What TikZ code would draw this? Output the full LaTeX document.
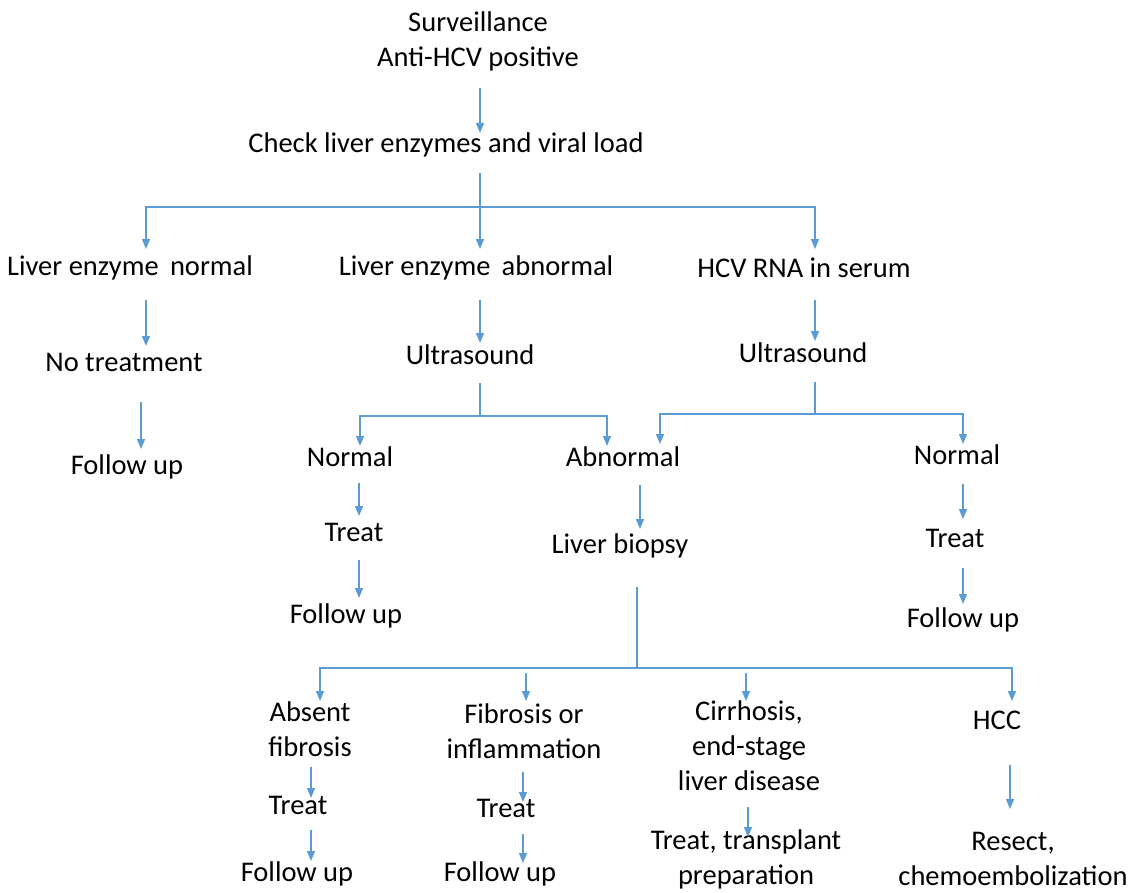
\documentclass[tikz,border=0pt]{standalone}
\usepackage{fontspec}
\setmainfont{Carlito}
\usetikzlibrary{arrows.meta}
\definecolor{ln}{HTML}{5B9BD5}
\tikzset{
  txt/.style={align=center,inner sep=0pt,font=\fontsize{28.5}{35}\selectfont},
  arr/.style={draw=ln,line width=1.3pt,-{Triangle[width=8pt,length=10pt]}},
  ln/.style={draw=ln,line width=1.3pt}
}
\begin{document}
\begin{tikzpicture}[x=1pt,y=-1pt]
\useasboundingbox (0,0) rectangle (1131,893);
% nodes
\node[txt] (surv) at (478,41) {Surveillance\\Anti-HCV positive};
\node[txt] (check) at (446,145) {Check liver enzymes and viral load};
\node[txt] (len) at (130,268) {Liver enzyme\, normal};
\node[txt] (lea) at (476,268) {Liver enzyme\, abnormal};
\node[txt] (rna) at (804,268) {HCV RNA in serum};
\node[txt] (notr) at (124,362) {No treatment};
\node[txt] (fu1) at (127,467) {Follow up};
\node[txt] (us1) at (470,355) {Ultrasound};
\node[txt] (us2) at (803,353) {Ultrasound};
\node[txt] (nor1) at (350,457) {Normal};
\node[txt] (abn) at (623,457) {Abnormal};
\node[txt] (nor2) at (957,455) {Normal};
\node[txt] (tr1) at (354,532) {Treat};
\node[txt] (fu2) at (346,616) {Follow up};
\node[txt] (bio) at (620,546) {Liver biopsy};
\node[txt] (tr2) at (955,538) {Treat};
\node[txt] (fu3) at (963,620) {Follow up};
\node[txt] (absf) at (310,729) {Absent\\fibrosis};
\node[txt] (fibi) at (524,731) {Fibrosis or\\inflammation};
\node[txt] (cirr) at (749,746) {Cirrhosis,\\end-stage\\liver disease};
\node[txt] (hcc) at (997,720) {HCC};
\node[txt] (tr3) at (298,805) {Treat};
\node[txt] (fu4) at (297,874) {Follow up};
\node[txt] (tr4) at (506,808) {Treat};
\node[txt] (fu5) at (500,874) {Follow up};
\node[txt] (ttp) at (746,859) {Treat, transplant\\preparation};
\node[txt] (res) at (1013,859) {Resect,\\chemoembolization};
% coordinates
\coordinate (c0a) at (480,88);  \coordinate (c0b) at (480,133);
\coordinate (c1a) at (480,173); \coordinate (c1b) at (480,207);
\coordinate (c1l) at (146,207); \coordinate (c1r) at (815,207);
\coordinate (c1l2) at (146,249); \coordinate (c1m2) at (480,249); \coordinate (c1r2) at (815,249);
\coordinate (a1) at (146,300); \coordinate (a1e) at (146,346);
\coordinate (a2) at (141,402); \coordinate (a2e) at (141,449);
\coordinate (a3) at (480,300); \coordinate (a3e) at (480,343);
\coordinate (b1a) at (480,383); \coordinate (b1b) at (480,416);
\coordinate (b1l) at (360,416); \coordinate (b1r) at (607,416);
\coordinate (b1l2) at (360,446); \coordinate (b1r2) at (607,446);
\coordinate (a4) at (359,483); \coordinate (a4e) at (359,516);
\coordinate (a5) at (359,560); \coordinate (a5e) at (359,598);
\coordinate (a6) at (640,485); \coordinate (a6e) at (640,529);
\coordinate (a7) at (815,300); \coordinate (a7e) at (815,341);
\coordinate (b2a) at (815,382); \coordinate (b2b) at (815,414);
\coordinate (b2l) at (660,414); \coordinate (b2r) at (963,414);
\coordinate (b2l2) at (660,444); \coordinate (b2r2) at (963,444);
\coordinate (a8) at (963,484); \coordinate (a8e) at (963,519);
\coordinate (a9) at (963,568); \coordinate (a9e) at (963,604);
\coordinate (d1a) at (637,587); \coordinate (d1b) at (637,668);
\coordinate (d1l) at (320,668); \coordinate (d1r) at (1012,668);
\coordinate (d1l2) at (320,701); \coordinate (d1r2) at (1012,701);
\coordinate (e1) at (526,673); \coordinate (e1e) at (526,701);
\coordinate (e2) at (746,673); \coordinate (e2e) at (746,701);
\coordinate (f1) at (311,767); \coordinate (f1e) at (311,798);
\coordinate (f2) at (311,830); \coordinate (f2e) at (311,861);
\coordinate (g1) at (523,772); \coordinate (g1e) at (523,802);
\coordinate (g2) at (523,834); \coordinate (g2e) at (523,863);
\coordinate (h1) at (748,807); \coordinate (h1e) at (748,837);
\coordinate (k1) at (1010,765); \coordinate (k1e) at (1010,809);
% connectors
\draw[arr] (c0a) -- (c0b);
\draw[ln] (c1a) -- (c1b);
\draw[arr] (c1b) -- (c1l) -- (c1l2);
\draw[arr] (c1b) -- (c1m2);
\draw[arr] (c1b) -- (c1r) -- (c1r2);
\draw[arr] (a1) -- (a1e);
\draw[arr] (a2) -- (a2e);
\draw[arr] (a3) -- (a3e);
\draw[ln] (b1a) -- (b1b);
\draw[arr] (b1b) -- (b1l) -- (b1l2);
\draw[arr] (b1b) -- (b1r) -- (b1r2);
\draw[arr] (a4) -- (a4e);
\draw[arr] (a5) -- (a5e);
\draw[arr] (a6) -- (a6e);
\draw[arr] (a7) -- (a7e);
\draw[ln] (b2a) -- (b2b);
\draw[arr] (b2b) -- (b2l) -- (b2l2);
\draw[arr] (b2b) -- (b2r) -- (b2r2);
\draw[arr] (a8) -- (a8e);
\draw[arr] (a9) -- (a9e);
\draw[ln] (d1a) -- (d1b);
\draw[arr] (d1b) -- (d1l) -- (d1l2);
\draw[arr] (d1b) -- (d1r) -- (d1r2);
\draw[arr] (e1) -- (e1e);
\draw[arr] (e2) -- (e2e);
\draw[arr] (f1) -- (f1e);
\draw[arr] (f2) -- (f2e);
\draw[arr] (g1) -- (g1e);
\draw[arr] (g2) -- (g2e);
\draw[arr] (h1) -- (h1e);
\draw[arr] (k1) -- (k1e);
\end{tikzpicture}
\end{document}
